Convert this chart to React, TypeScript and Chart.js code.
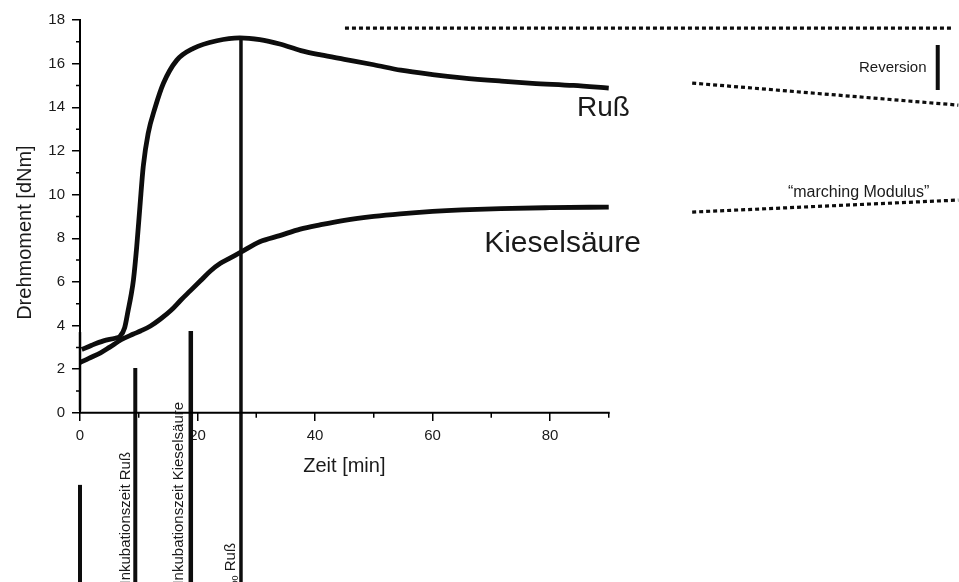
import React, { useEffect, useRef } from "react";
import { Chart, registerables } from "chart.js";

Chart.register(...registerables);

// ---- data (minutes, dNm) ----
const russTime = [0.3, 2, 4, 6, 6.8, 7.6, 8.2, 8.7, 9.1, 9.65, 10.2, 10.77, 11.6, 12.8, 14.2, 16.45, 19.3, 23.3, 27.2, 30.6, 34, 37.6, 41, 45, 50, 54.6, 60, 65, 71.7, 77, 84, 90];
const russTorque = [2.9, 3.1, 3.3, 3.42, 3.5, 3.9, 4.7, 5.4, 6.1, 7.6, 9.45, 11.3, 12.8, 14.0, 15.1, 16.15, 16.7, 17.05, 17.18, 17.1, 16.9, 16.6, 16.4, 16.2, 15.95, 15.7, 15.5, 15.35, 15.2, 15.1, 15.0, 14.88];

const kieselTime = [0, 1.5, 3.5, 5, 7, 9, 10.3, 12, 13.7, 15.5, 17.1, 18.8, 20.5, 22.2, 23.9, 25.6, 27.3, 30.6, 34, 37.5, 41, 45, 50, 54.5, 60, 65, 71.6, 80, 90];
const kieselTorque = [2.3, 2.5, 2.75, 3.0, 3.35, 3.6, 3.75, 3.98, 4.3, 4.7, 5.15, 5.6, 6.05, 6.5, 6.85, 7.1, 7.35, 7.84, 8.12, 8.42, 8.62, 8.82, 9.0, 9.12, 9.23, 9.3, 9.36, 9.4, 9.43];

const spikeTime = [0, 0];
const spikeTorque = [0.1, 3.7];

const markerTimes = [0, 9.41, 18.86, 27.4];
const markerTops = [-3.3, 2.06, 3.75, 17.16];
const markerBottom = -8;
const markerLabels = ["", "Inkubationszeit Ruß", "Inkubationszeit Kieselsäure", " Ruß"];

const plateauTime = [45.1, 148.6];
const plateauTorque = [17.63, 17.63];
const reversionTrendTime = [104.2, 149.5];
const reversionTrendTorque = [15.11, 14.1];
const marchingTime = [104.2, 149.5];
const marchingTorque = [9.2, 9.75];
const reversionBarTime = [146, 146];
const reversionBarTorque = [16.85, 14.79];

const xTicks = [0, 20, 40, 60, 80];
const xMinorTicks = [10, 30, 50, 70, 90];
const yTicks = [0, 2, 4, 6, 8, 10, 12, 14, 16, 18];
const yMinorTicks = [1, 3, 5, 7, 9, 11, 13, 15, 17];

const xTitle = "Zeit [min]";
const yTitle = "Drehmoment [dNm]";
const seriesNames = ["Ruß", "Kieselsäure"];
const reversionText = "Reversion";
const marchingText = "\u201Cmarching Modulus\u201D";

// ---- layout of annotations (data coordinates) ----
const FONT = '"Liberation Sans", Arial, Helvetica, sans-serif';
const INK = "#1a1a1a";
const labelPos = {
  russ: [84.6, 13.6],
  kiesel: [68.8, 7.38],
  reversion: [132.6, 15.62],
  marching: [120.5, 9.89],
  xTitle: [45, -2.71],
  yTitleY: 8.26,
  markers: [
    [0, 0],
    [8.51, -1.79],
    [17.53, 0.5],
    [26.38, -5.96],
  ],
};

const pts = (xs: number[], ys: number[]) => xs.map((x, i) => ({ x, y: ys[i] }));

const decorPlugin = {
  id: "decor",
  afterDatasetsDraw(chart: any) {
    const { ctx } = chart;
    const xs = chart.scales.x;
    const ys = chart.scales.y;
    const px = (v: number) => xs.getPixelForValue(v);
    const py = (v: number) => ys.getPixelForValue(v);
    ctx.save();
    // axis lines
    ctx.strokeStyle = "#000";
    ctx.lineWidth = 2;
    ctx.lineCap = "butt";
    ctx.beginPath();
    ctx.moveTo(px(0), py(0) + 1);
    ctx.lineTo(px(0), py(18) - 1);
    ctx.moveTo(px(0) - 1, py(0));
    ctx.lineTo(px(90) + 1, py(0));
    ctx.stroke();
    // minor ticks
    ctx.lineWidth = 1.5;
    ctx.beginPath();
    yMinorTicks.forEach((v) => {
      ctx.moveTo(px(0), py(v));
      ctx.lineTo(px(0) - 4, py(v));
    });
    xMinorTicks.forEach((v) => {
      ctx.moveTo(px(v), py(0));
      ctx.lineTo(px(v), py(0) + 5);
    });
    ctx.stroke();

    ctx.fillStyle = INK;
    ctx.textBaseline = "alphabetic";
    // axis titles
    ctx.font = `20px ${FONT}`;
    ctx.textAlign = "center";
    ctx.fillText(xTitle, px(labelPos.xTitle[0]), py(labelPos.xTitle[1]));
    ctx.save();
    ctx.translate(px(0) - 49, py(labelPos.yTitleY));
    ctx.rotate(-Math.PI / 2);
    ctx.fillText(yTitle, 0, 0);
    ctx.restore();

    // series labels
    ctx.textAlign = "left";
    ctx.font = `28px ${FONT}`;
    ctx.fillText(seriesNames[0], px(labelPos.russ[0]), py(labelPos.russ[1]));
    ctx.font = `30px ${FONT}`;
    ctx.fillText(seriesNames[1], px(labelPos.kiesel[0]), py(labelPos.kiesel[1]));
    ctx.font = `15px ${FONT}`;
    ctx.fillText(reversionText, px(labelPos.reversion[0]), py(labelPos.reversion[1]));
    ctx.font = `16px ${FONT}`;
    ctx.fillText(marchingText, px(labelPos.marching[0]), py(labelPos.marching[1]));

    // rotated marker labels
    markerLabels.forEach((txt, i) => {
      if (!txt) return;
      const [lx, ly] = labelPos.markers[i];
      ctx.save();
      ctx.translate(px(lx), py(ly));
      ctx.rotate(-Math.PI / 2);
      ctx.textAlign = "right";
      ctx.font = `15px ${FONT}`;
      ctx.fillText(txt, 0, 0);
      if (i === 3) {
        const w1 = ctx.measureText(txt).width;
        ctx.font = `9px ${FONT}`;
        ctx.fillText("c100", -w1, 3);
        const w2 = ctx.measureText("c100").width;
        ctx.font = `15px ${FONT}`;
        ctx.fillText("t", -w1 - w2, 0);
      }
      ctx.restore();
    });
    ctx.restore();
  },
};

export default function App() {
  const ref = useRef<HTMLCanvasElement | null>(null);
  useEffect(() => {
    document.body.style.margin = "0";
    document.body.style.overflow = "hidden";
    if (!ref.current) return;
    const line = (data: any[], width: number, extra: any = {}) => ({
      data,
      showLine: true,
      borderColor: "#0d0d0d",
      backgroundColor: "#0d0d0d",
      borderWidth: width,
      pointRadius: 0,
      clip: false,
      borderCapStyle: "butt",
      ...extra,
    });
    const datasets: any[] = [
      line(pts(russTime, russTorque), 4.8, { cubicInterpolationMode: "monotone" }),
      line(pts(kieselTime, kieselTorque), 4.8, { cubicInterpolationMode: "monotone" }),
      line(pts(spikeTime, spikeTorque), 2.5),
      line(pts(plateauTime, plateauTorque), 3.2, { borderDash: [4, 3] }),
      line(pts(reversionTrendTime, reversionTrendTorque), 3.2, { borderDash: [4, 3] }),
      line(pts(marchingTime, marchingTorque), 3.2, { borderDash: [4, 3] }),
      line(pts(reversionBarTime, reversionBarTorque), 4),
    ];
    const markerWidths = [4, 4, 4.5, 3.5];
    markerTimes.forEach((t, i) => {
      datasets.push(line(pts([t, t], [markerBottom, markerTops[i]]), markerWidths[i]));
    });

    const tickFont = { family: FONT, size: 15 };
    const chart = new Chart(ref.current, {
      type: "scatter",
      data: { datasets },
      options: {
        animation: false,
        responsive: false,
        maintainAspectRatio: false,
        layout: { padding: { left: 0, right: 0.7, top: 20, bottom: 0 } },
        plugins: { legend: { display: false }, tooltip: { enabled: false } },
        scales: {
          x: {
            type: "linear",
            min: 0,
            max: 149.5,
            position: { y: 0 } as any,
            afterBuildTicks: (s: any) => {
              s.ticks = xTicks.map((v) => ({ value: v }));
            },
            afterFit: (s: any) => {
              s.paddingLeft = 0;
              s.paddingRight = 0;
            },
            grid: { drawOnChartArea: false, drawTicks: true, tickLength: 8, color: "#000", lineWidth: 1.5 },
            border: { display: false },
            ticks: { font: tickFont, color: INK, padding: 6, autoSkip: false, maxRotation: 0 },
          },
          y: {
            type: "linear",
            min: -7.75,
            max: 18,
            position: "left",
            afterBuildTicks: (s: any) => {
              s.ticks = yTicks.map((v) => ({ value: v }));
            },
            afterFit: (s: any) => {
              s.width = 80;
              s.paddingTop = 0;
              s.paddingBottom = 0;
            },
            grid: { drawOnChartArea: false, drawTicks: true, tickLength: 8, color: "#000", lineWidth: 1.5 },
            border: { display: false },
            ticks: { font: tickFont, color: INK, padding: 7, autoSkip: false },
          },
        },
      } as any,
      plugins: [decorPlugin],
    });
    return () => chart.destroy();
  }, []);
  return (
    <div style={{ width: 959, height: 582, position: "relative" }}>
      <canvas ref={ref} width={959} height={582} style={{ display: "block" }} />
    </div>
  );
}
